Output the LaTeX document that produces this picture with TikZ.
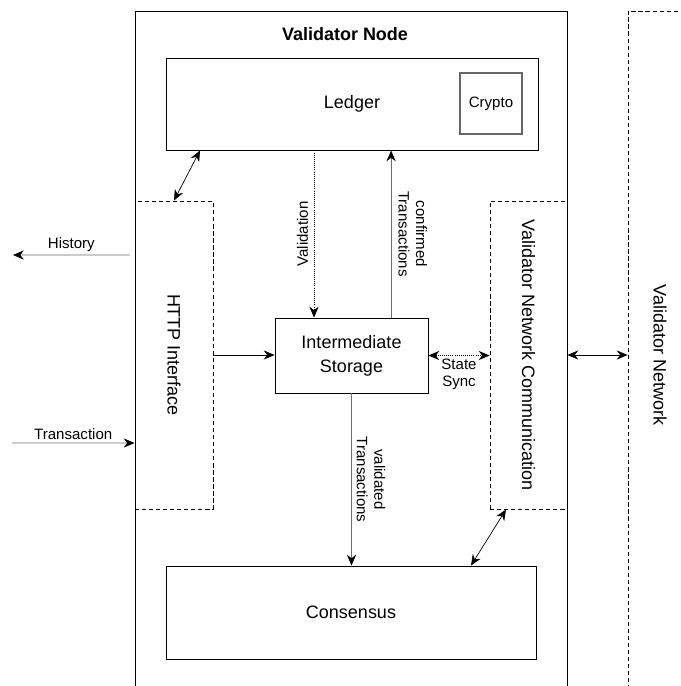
\documentclass[tikz,border=0pt]{standalone}
\usepackage{fontspec}
\setmainfont{Liberation Sans}
\usepackage{graphicx}
\usetikzlibrary{arrows.meta}
\begin{document}
\begin{tikzpicture}[>={Stealth[length=2.7mm,width=2.3mm]}, line width=0.5pt]
\tikzstyle{box}=[draw, line width=0.7pt, font=\fontsize{12.8}{17}\selectfont, inner sep=0pt]
\tikzstyle{dbox}=[box, dash pattern=on 3pt off 2pt]
\tikzstyle{lbl}=[font=\fontsize{10.7}{12.5}\selectfont, align=center, inner sep=2pt]
\tikzstyle{gline}=[draw=gray!85!black, -{Stealth[length=2.7mm,width=2.3mm,color=black]}]
\useasboundingbox (0,0) rectangle (17,-17.15);
\clip (0,0) rectangle (17,-17.15);

\node[box, minimum width=10.8cm, minimum height=18cm, anchor=north west] (valnode) at (3.375,-0.275) {};
\node[font=\bfseries\fontsize{12.8}{15}\selectfont] (title) at (8.625,-0.85) {Validator Node};
\node[box, minimum width=9.3cm, minimum height=2.3cm] (ledger) at (8.8,-2.6) {Ledger};
\node[box, lbl, draw=gray!80!black, line width=1pt, minimum width=1.55cm, minimum height=1.525cm] (crypto) at (12.275,-2.5875) {Crypto};
\node[dbox, minimum width=1.95cm, minimum height=7.7cm] (http) at (4.35,-8.875) {\rotatebox{-90}{HTTP Interface}};
\node[box, align=center, minimum width=3.825cm, minimum height=1.875cm] (inter) at (8.7875,-8.8875) {Intermediate\\Storage};
\node[dbox, minimum width=1.925cm, minimum height=7.7cm] (vnc) at (13.2125,-8.875) {\rotatebox{-90}{Validator Network Communication}};
\node[box, minimum width=9.25cm, minimum height=2.325cm] (consensus) at (8.775,-15.3125) {Consensus};
\node[dbox, minimum width=1.6cm, minimum height=17.2cm] (valnet) at (16.5,-8.875) {\rotatebox{-90}{Validator Network}};
\coordinate (hist) at (0.325,-6.375);
\coordinate (tx) at (0.3,-11.075);

\draw[<->] ([xshift=-3.8cm]ledger.south) -- (http.north);
\draw[gline] ([xshift=-0.12cm,yshift=2.5cm]http.west) -- node[lbl, above]{History} (hist);
\draw[gline] (tx) -- node[lbl, above]{Transaction} ([yshift=-2.2cm]http.west);
\draw[->] (http.east) -- (http.east -| inter.west);
\draw[->, densely dotted] ([xshift=-0.95cm]ledger.south) -- node[lbl, rotate=90, anchor=south, inner sep=4pt]{Validation} ([xshift=-0.95cm]ledger.south |- inter.north);
\draw[gline] ([xshift=0.99cm]inter.north) -- node[lbl, rotate=-90, anchor=south, inner sep=5pt]{confirmed\\Transactions} ([xshift=0.99cm]inter.north |- ledger.south);
\draw[gline] (inter.south) -- node[lbl, rotate=-90, anchor=south, inner sep=3.5pt]{validated\\Transactions} (inter.south |- consensus.north);
\draw[<->, densely dotted] (inter.east) -- node[lbl, below]{State\\Sync} (inter.east -| vnc.west);
\draw[<->] (vnc.east) -- (valnet.west);
\draw[<->] ([xshift=3cm]consensus.north) -- ([xshift=-0.5625cm]vnc.south);
\end{tikzpicture}
\end{document}
